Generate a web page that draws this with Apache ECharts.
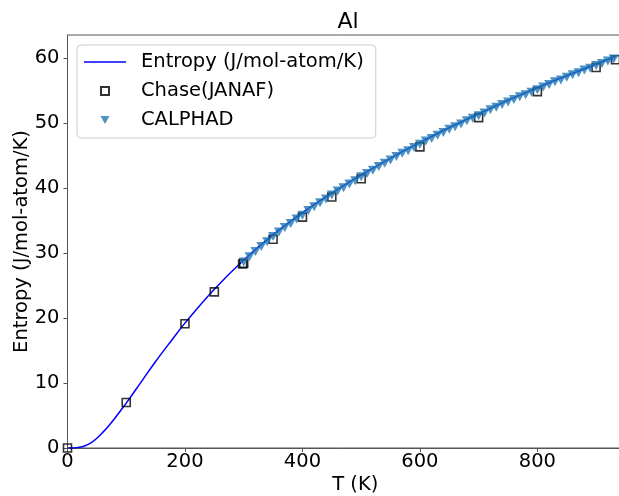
<!DOCTYPE html>
<html>
<head>
<meta charset="utf-8">
<script src="https://cdn.jsdelivr.net/npm/echarts@6/dist/echarts.min.js"></script>
<style>html,body{margin:0;padding:0;background:#fff}#c{width:619px;height:496px}</style>
</head>
<body>
<div id="c"></div>
<script>
// Model entropy line (T in K, S in J/mol-atom/K)
var lineT = [0, 10, 20, 30, 40, 50, 60, 70, 80, 90, 100, 125, 150, 175, 200, 250, 300, 350, 400, 450, 500, 600, 700, 800, 900, 933];
var lineS = [0, 0.01, 0.1, 0.35, 0.8, 1.5, 2.4, 3.4, 4.5, 5.7, 6.9, 10.1, 13.3, 16.3, 19.2, 24.4, 28.9, 32.8, 36.2, 39.2, 42.0, 47.0, 51.4, 55.4, 59.0, 60.2];

// Chase (JANAF) table points
var janafT = [0, 100, 200, 250, 298.15, 300, 350, 400, 450, 500, 600, 700, 800, 900, 933];
var janafS = [0, 7.0, 19.1, 24.0, 28.3, 28.4, 32.1, 35.5, 38.6, 41.4, 46.3, 50.8, 54.8, 58.5, 59.7];

// CALPHAD points
var calT = [300,310,320,330,340,350,360,370,380,390,400,410,420,430,440,450,460,470,480,490,500,510,520,530,540,550,560,570,580,590,600,610,620,630,640,650,660,670,680,690,700,710,720,730,740,750,760,770,780,790,800,810,820,830,840,850,860,870,880,890,900,910,920,930];
var calS = [28.6,29.4,30.2,31.0,31.7,32.5,33.2,33.9,34.5,35.2,35.8,36.5,37.1,37.7,38.3,38.9,39.5,40.0,40.6,41.1,41.7,42.2,42.7,43.3,43.8,44.3,44.8,45.3,45.7,46.2,46.7,47.2,47.6,48.1,48.5,49.0,49.4,49.8,50.3,50.7,51.1,51.5,52.0,52.4,52.8,53.2,53.6,54.0,54.3,54.7,55.1,55.5,55.9,56.3,56.6,57.0,57.4,57.7,58.1,58.4,58.8,59.1,59.5,59.8];

var xTicks = [0, 200, 400, 600, 800];
var yTicks = [0, 10, 20, 30, 40, 50, 60];

function zip(a, b) { return a.map(function (v, i) { return [v, b[i]]; }); }

var font = 'DejaVu Sans';
var fs = 19.5;
var axisCol = '#555';
var SQUARE = 'path://M0,0 L10,0 L10,10 L0,10 Z';
var TRI_DOWN = 'path://M0,0 L10,0 L5,9 Z';
var LINE_ICON = 'path://M0,0 L42,0 L42,1.6 L0,1.6 Z';

var chart = echarts.init(document.getElementById('c'), null, {renderer: 'canvas'});
chart.setOption({
  animation: false,
  backgroundColor: '#fff',
  title: {
    text: 'Al', left: 343, top: 6, textAlign: 'center',
    textStyle: {fontFamily: font, fontSize: 22, fontWeight: 'normal', color: '#000'}
  },
  grid: {
    left: 67.5, top: 35, width: 575.6, height: 413,
    containLabel: false, outerBoundsMode: 'none',
    show: true, borderColor: axisCol, borderWidth: 1, backgroundColor: 'transparent'
  },
  legend: {
    orient: 'vertical', left: 77, top: 45,
    padding: [6, 12, 7, 7],
    itemGap: 7,
    itemWidth: 42, itemHeight: 8,
    symbolKeepAspect: true,
    symbolRotate: 0,
    backgroundColor: 'rgba(255,255,255,0.85)',
    borderColor: '#cccccc', borderWidth: 1, borderRadius: 4,
    textStyle: {fontFamily: font, fontSize: fs, color: '#000', lineHeight: 22, padding: [0, 0, 0, 10]},
    data: [
      {name: 'Entropy (J/mol-atom/K)', icon: LINE_ICON, itemStyle: {color: '#0000ff', borderWidth: 0}},
      {name: 'Chase(JANAF)', icon: SQUARE},
      {name: 'CALPHAD', icon: TRI_DOWN}
    ]
  },
  xAxis: {
    type: 'value', min: 0, max: 980, interval: 200,
    name: 'T (K)', nameLocation: 'middle', nameGap: 27, nameMoveOverlap: false,
    nameTextStyle: {fontFamily: font, fontSize: fs, color: '#000'},
    axisLine: {show: true, lineStyle: {color: axisCol, width: 1}},
    axisTick: {show: true, length: 4, lineStyle: {color: axisCol}},
    axisLabel: {fontFamily: font, fontSize: fs, color: '#000', margin: 4, showMaxLabel: false,
      formatter: function (v) { return xTicks.indexOf(v) >= 0 ? String(v) : ''; }},
    splitLine: {show: false}
  },
  yAxis: {
    type: 'value', min: 0, max: 63.5, interval: 10,
    name: 'Entropy (J/mol-atom/K)', nameLocation: 'middle', nameGap: 36, nameRotate: 90, nameMoveOverlap: false,
    nameTextStyle: {fontFamily: font, fontSize: fs, color: '#000'},
    axisLine: {show: true, lineStyle: {color: axisCol, width: 1}},
    axisTick: {show: true, length: 4, lineStyle: {color: axisCol}},
    axisLabel: {fontFamily: font, fontSize: fs, color: '#000', margin: 8, showMaxLabel: false,
      formatter: function (v) { return yTicks.indexOf(v) >= 0 ? String(v) : ''; }},
    splitLine: {show: false}
  },
  series: [
    {
      name: 'Entropy (J/mol-atom/K)', type: 'line', data: zip(lineT, lineS),
      showSymbol: false, symbol: 'none', smooth: 0.4, clip: true,
      lineStyle: {color: '#0000ff', width: 1.5}, itemStyle: {color: '#0000ff'}, z: 2
    },
    {
      name: 'Chase(JANAF)', type: 'scatter', data: zip(janafT, janafS),
      symbol: SQUARE, symbolSize: 8, clip: false,
      itemStyle: {color: 'rgba(255,255,255,0)', borderColor: '#000', borderWidth: 1.6}, z: 3
    },
    {
      name: 'CALPHAD', type: 'scatter', data: zip(calT, calS),
      symbol: TRI_DOWN, symbolSize: [10, 9], clip: false,
      itemStyle: {color: '#1f77b4'}, z: 4
    }
  ]
});
</script>
</body>
</html>
